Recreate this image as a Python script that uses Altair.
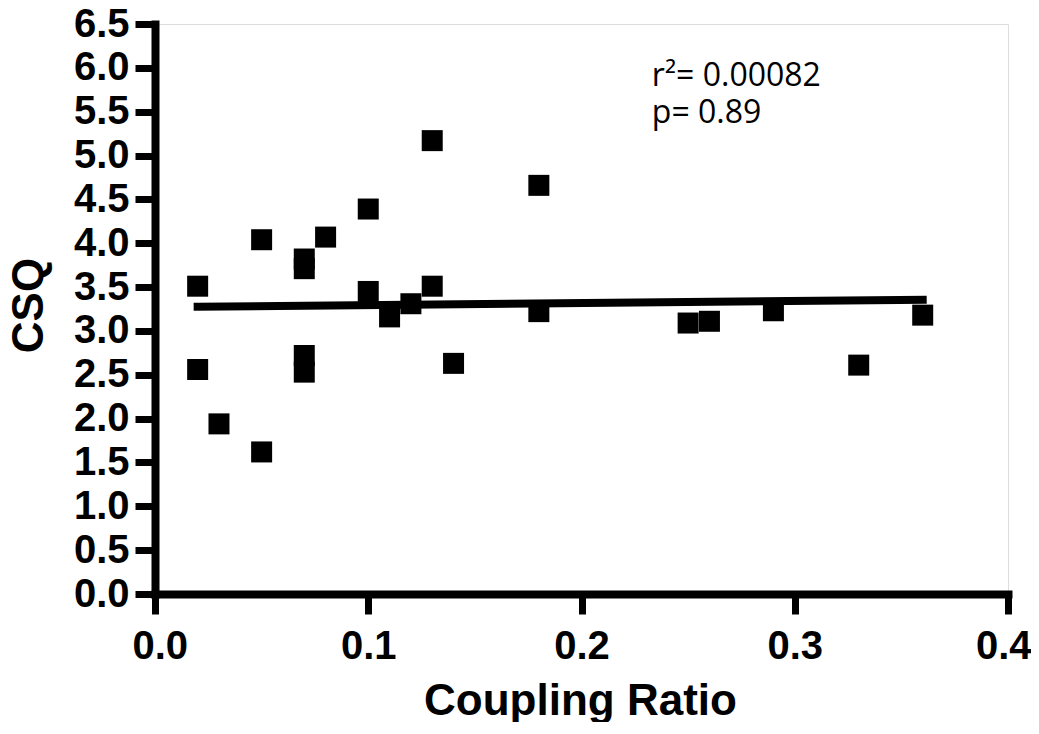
import altair as alt
import pandas as pd

# data
coupling_ratio = [0.02, 0.02, 0.03, 0.05, 0.05, 0.07, 0.07, 0.07, 0.07, 0.08,
                  0.10, 0.10, 0.11, 0.12, 0.13, 0.13, 0.14, 0.18, 0.18, 0.25,
                  0.26, 0.29, 0.33, 0.36]
csq = [3.51, 2.56, 1.94, 4.04, 1.62, 3.82, 3.71, 2.72, 2.53, 4.07,
       4.39, 3.45, 3.16, 3.31, 5.17, 3.51, 2.63, 4.66, 3.22, 3.09,
       3.11, 3.23, 2.61, 3.18]

x_ticks = [0.0, 0.1, 0.2, 0.3, 0.4]
y_ticks = [0.0, 0.5, 1.0, 1.5, 2.0, 2.5, 3.0, 3.5, 4.0, 4.5, 5.0, 5.5, 6.0, 6.5]

stat_text = ["r\u00b2= 0.00082", "p= 0.89"]
stat_x = [0.233, 0.233]
stat_y = [5.79, 5.37]

df = pd.DataFrame({"x": coupling_ratio, "y": csq})
df_text = pd.DataFrame({"label": stat_text, "x": stat_x, "y": stat_y})

FONT = "Liberation Sans"

xscale = alt.Scale(domain=[0, 0.4], nice=False, zero=False)
yscale = alt.Scale(domain=[0, 6.5], nice=False, zero=False)

xaxis = alt.Axis(
    values=x_ticks, format=".1f", title="Coupling Ratio",
    domainColor="black", domainWidth=8, domainCap="square",
    tickColor="black", tickWidth=7, tickSize=20,
    labelFont=FONT, labelFontWeight="bold", labelFontSize=40, labelColor="black",
    labelBaseline="alphabetic", labelPadding=44,
    labelFlush=True, labelFlushOffset=23,
    titleFont=FONT, titleFontWeight="bold", titleFontSize=44, titleColor="black",
    titleBaseline="alphabetic", titleX=425, titleY=120, titleAnchor="middle",
    grid=False,
)
yaxis = alt.Axis(
    values=y_ticks, format=".1f", title="CSQ",
    domainColor="black", domainWidth=8, domainCap="square",
    tickColor="black", tickWidth=7, tickSize=20,
    labelFont=FONT, labelFontWeight="bold", labelFontSize=40, labelColor="black",
    labelPadding=6, labelFlush=False,
    titleFont=FONT, titleFontWeight="bold", titleFontSize=44, titleColor="black",
    titleBaseline="middle", titleX=-126, titleY=281, titleAngle=-90, titleAnchor="middle",
    grid=False,
)

points = alt.Chart(df).mark_square(size=441, color="black", opacity=1, filled=True).encode(
    x=alt.X("x:Q", scale=xscale, axis=xaxis),
    y=alt.Y("y:Q", scale=yscale, axis=yaxis),
)

fit = alt.Chart(df).transform_regression("x", "y").mark_line(
    color="black", strokeWidth=8, strokeCap="square"
).encode(
    x=alt.X("x:Q", scale=xscale),
    y=alt.Y("y:Q", scale=yscale),
)

text = alt.Chart(df_text).mark_text(
    align="left", baseline="alphabetic", font="Open Sans", fontSize=32, color="black"
).encode(
    x=alt.X("x:Q", scale=xscale),
    y=alt.Y("y:Q", scale=yscale),
    text="label:N",
)

chart = alt.layer(points, fit, text).properties(
    width=853, height=570,
    autosize=alt.AutoSizeParams(type="none"),
    padding={"left": 147, "top": 16, "right": 23, "bottom": 128},
).configure_view(stroke=None).configure(background="white")

chart.save("out.html", embed_options={"renderer": "svg", "actions": False})
